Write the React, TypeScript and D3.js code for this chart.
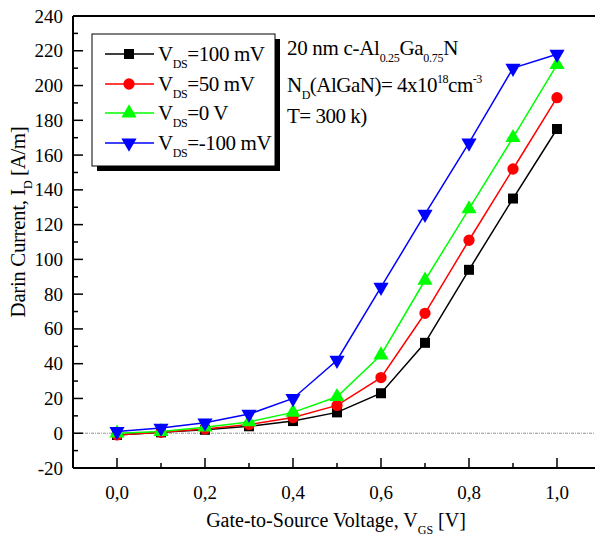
import React, { useEffect, useRef } from "react";
import * as d3 from "d3";

// gate voltages and drain currents
const vgs = [0, 0.1, 0.2, 0.3, 0.4, 0.5, 0.6, 0.7, 0.8, 0.9, 1.0];
const id100 = [-1, 0.5, 2, 4, 7, 12, 23, 52, 94, 135, 175];
const id50 = [-1, 0.5, 2.5, 5, 9, 16, 32, 69, 111, 152, 193];
const id0 = [0, 1, 3.5, 6.5, 12, 21, 45, 88, 129, 170, 212];
const idm100 = [1, 3, 6, 11, 20, 42, 84, 126, 167, 210, 218];

const seriesNames = ["=100 mV", "=50 mV", "=0 V", "=-100 mV"];
const seriesColors = ["#000000", "#ff0000", "#00ff00", "#0000ff"];
const seriesSymbols = ["square", "circle", "up", "down"];
const seriesValues = [id100, id50, id0, idm100];

const xTicks = [0, 0.2, 0.4, 0.6, 0.8, 1.0];
const yTicks = [-20, 0, 20, 40, 60, 80, 100, 120, 140, 160, 180, 200, 220, 240];

const font = "Liberation Serif, Tinos, Times New Roman, DejaVu Serif, serif";

function App() {
  const ref = useRef<SVGSVGElement>(null);

  useEffect(() => {
    const svg = d3.select(ref.current);
    svg.selectAll("*").remove();

    const x = d3.scaleLinear().domain([-0.1, 1.1]).range([73, 601]);
    const y = d3.scaleLinear().domain([-20, 240]).range([468, 16]);

    const g = svg.append("g");

    // zero reference line
    g.append("line")
      .attr("x1", x(-0.1)).attr("x2", x(1.1))
      .attr("y1", y(0)).attr("y2", y(0))
      .attr("stroke", "#777").attr("stroke-width", 0.8)
      .attr("stroke-dasharray", "3,1,1,1");

    // frame: bottom, left, top
    g.append("line").attr("x1", x(-0.1)).attr("x2", x(1.1))
      .attr("y1", y(-20)).attr("y2", y(-20)).attr("stroke", "#000").attr("stroke-width", 2);
    g.append("line").attr("x1", x(-0.1)).attr("x2", x(-0.1))
      .attr("y1", y(-20)).attr("y2", y(240)).attr("stroke", "#000").attr("stroke-width", 2);
    g.append("line").attr("x1", x(-0.1)).attr("x2", x(1.1))
      .attr("y1", y(240)).attr("y2", y(240)).attr("stroke", "#000").attr("stroke-width", 2);

    // x ticks (inward)
    const xMinor = d3.range(-1, 12).map(i => i / 10);
    g.selectAll(".xt").data(xMinor).join("line")
      .attr("x1", d => x(d)).attr("x2", d => x(d))
      .attr("y1", y(-20))
      .attr("y2", d => y(-20) - (Math.round(d * 10) % 2 === 0 ? 10 : 5))
      .attr("stroke", "#000").attr("stroke-width", 1.5);
    g.selectAll(".xl").data(xTicks).join("text")
      .attr("x", d => x(d)).attr("y", 499)
      .attr("text-anchor", "middle")
      .style("font-family", font).attr("font-size", 19)
      .text(d => d3.format(".1f")(d).replace(".", ","));

    // y ticks (inward)
    const yMinor = d3.range(-20, 241, 10);
    g.selectAll(".yt").data(yMinor).join("line")
      .attr("x1", x(-0.1))
      .attr("x2", d => x(-0.1) + (d % 20 === 0 ? 10 : 5))
      .attr("y1", d => y(d)).attr("y2", d => y(d))
      .attr("stroke", "#000").attr("stroke-width", 1.5);
    g.selectAll(".yl").data(yTicks).join("text")
      .attr("x", 63).attr("y", d => y(d) + 6.5)
      .attr("text-anchor", "end")
      .style("font-family", font).attr("font-size", 19)
      .text(d => String(d));

    const symbolPath = (s: string, size: number) => {
      if (s === "square") return d3.symbol(d3.symbolSquare, size)();
      if (s === "circle") return d3.symbol(d3.symbolCircle, size)();
      return d3.symbol(d3.symbolTriangle, size)();
    };

    const line = d3.line<number>().x((_, i) => x(vgs[i])).y(d => y(d));

    seriesValues.forEach((vals, k) => {
      g.append("path").datum(vals)
        .attr("d", line)
        .attr("fill", "none")
        .attr("stroke", seriesColors[k]).attr("stroke-width", 1.5);
      g.selectAll(".m" + k).data(vals).join("path")
        .attr("d", symbolPath(seriesSymbols[k], 100))
        .attr("transform", (d, i) =>
          `translate(${x(vgs[i])},${y(d)})` + (seriesSymbols[k] === "down" ? " rotate(180)" : ""))
        .attr("fill", seriesColors[k]);
    });

    // legend
    const lg = svg.append("g");
    lg.append("rect").attr("x", 97).attr("y", 39).attr("width", 183).attr("height", 132).attr("fill", "#000");
    lg.append("rect").attr("x", 92).attr("y", 34).attr("width", 183).attr("height", 132)
      .attr("fill", "#fff").attr("stroke", "#000").attr("stroke-width", 1);
    const rowY = [54, 84, 113, 143];
    seriesNames.forEach((name, k) => {
      lg.append("line").attr("x1", 105).attr("x2", 154)
        .attr("y1", rowY[k]).attr("y2", rowY[k])
        .attr("stroke", seriesColors[k]).attr("stroke-width", 1.5);
      lg.append("path")
        .attr("d", symbolPath(seriesSymbols[k], 100))
        .attr("transform", `translate(129,${rowY[k]})` + (seriesSymbols[k] === "down" ? " rotate(180)" : ""))
        .attr("fill", seriesColors[k]);
      const t = lg.append("text").attr("x", 158).attr("y", rowY[k] + 7)
        .style("font-family", font).attr("font-size", 21).attr("letter-spacing", -0.4);
      t.append("tspan").text("V");
      t.append("tspan").attr("font-size", 12).attr("dy", 7).text("DS");
      t.append("tspan").attr("dy", -7).text(name);
    });

    // annotation
    const ann = svg.append("g").style("font-family", font).attr("font-size", 21);
    const a1 = ann.append("text").attr("x", 287).attr("y", 55).attr("letter-spacing", -0.3);
    a1.append("tspan").text("20 nm c-Al");
    a1.append("tspan").attr("font-size", 12).attr("dy", 7).text("0.25");
    a1.append("tspan").attr("dy", -7).text("Ga");
    a1.append("tspan").attr("font-size", 12).attr("dy", 7).text("0.75");
    a1.append("tspan").attr("dy", -7).text("N");
    const a2 = ann.append("text").attr("x", 287).attr("y", 92).attr("letter-spacing", -0.5);
    a2.append("tspan").text("N");
    a2.append("tspan").attr("font-size", 12).attr("dy", 7).text("D");
    a2.append("tspan").attr("dy", -7).text("(AlGaN)= 4x10");
    a2.append("tspan").attr("font-size", 12).attr("dy", -9).text("18");
    a2.append("tspan").attr("dy", 9).text("cm");
    a2.append("tspan").attr("font-size", 12).attr("dy", -9).text("-3");
    ann.append("text").attr("x", 287).attr("y", 123).attr("letter-spacing", -0.5).text("T= 300 k)");

    // axis titles
    const xt = svg.append("text").attr("x", 336).attr("y", 527)
      .attr("text-anchor", "middle").style("font-family", font).attr("font-size", 20);
    xt.append("tspan").text("Gate-to-Source Voltage, V");
    xt.append("tspan").attr("font-size", 12).attr("dy", 7).text("GS");
    xt.append("tspan").attr("dy", -7).text(" [V]");

    const yt = svg.append("text")
      .attr("transform", "translate(25,222) rotate(-90)")
      .attr("text-anchor", "middle").style("font-family", font).attr("font-size", 21)
      .attr("letter-spacing", -0.4);
    yt.append("tspan").text("Darin Current, I");
    yt.append("tspan").attr("font-size", 12).attr("dy", 7).text("D");
    yt.append("tspan").attr("dy", -7).text(" [A/m]");
  }, []);

  return (
    <svg ref={ref} width={595} height={539}
      style={{ position: "absolute", left: 0, top: 0, background: "#fff" }} />
  );
}

export default App;
